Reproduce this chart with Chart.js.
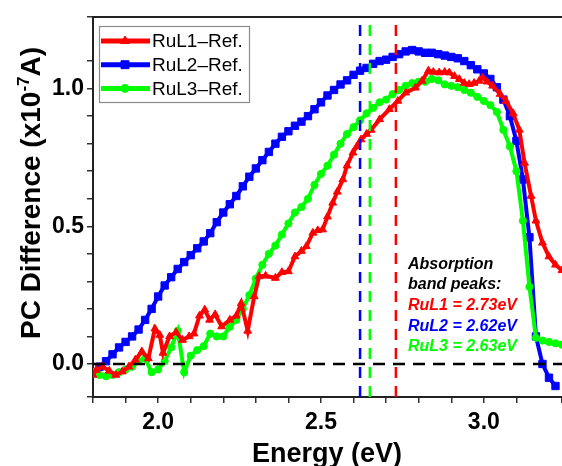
<!DOCTYPE html>
<html>
<head>
<meta charset="utf-8">
<script src="https://cdn.jsdelivr.net/npm/chart.js@4.4.1/dist/chart.umd.min.js"></script>
<style>
html,body{margin:0;padding:0;background:#fff;}
#wrap{width:562px;height:466px;position:relative;}
</style>
</head>
<body>
<div id="wrap"><canvas id="c" width="562" height="466"></canvas></div>
<script>
// ---- data ----
const seriesLabels = ['RuL1\u2013Ref.', 'RuL2\u2013Ref.', 'RuL3\u2013Ref.'];

const energyRuL1 = [1.80,1.81,1.83,1.85,1.87,1.89,1.91,1.93,1.95,1.97,1.99,2.005,2.015,2.035,2.055,2.075,2.095,2.11,2.127,2.143,2.158,2.175,2.195,2.22,2.24,2.255,2.275,2.295,2.31,2.33,2.36,2.38,2.40,2.42,2.44,2.455,2.475,2.49,2.505,2.52,2.536,2.55,2.567,2.58,2.598,2.61,2.623,2.64,2.654,2.68,2.71,2.736,2.76,2.79,2.81,2.83,2.845,2.863,2.88,2.894,2.91,2.925,2.94,2.955,2.97,2.986,2.996,3.01,3.027,3.05,3.068,3.09,3.109,3.125,3.145,3.16,3.18,3.20,3.22,3.24];
const pcRuL1 = [-0.04,-0.022,-0.01,-0.025,-0.04,-0.028,-0.01,0.015,0.045,0.02,0.128,0.105,0.04,0.10,0.115,0.087,0.10,0.11,0.175,0.197,0.16,0.18,0.136,0.16,0.175,0.22,0.12,0.245,0.318,0.32,0.312,0.333,0.336,0.39,0.41,0.427,0.476,0.485,0.488,0.535,0.585,0.625,0.67,0.72,0.767,0.79,0.815,0.835,0.85,0.888,0.925,0.955,0.985,1.003,1.028,1.065,1.06,1.058,1.06,1.058,1.045,1.034,1.02,1.016,1.02,1.028,1.04,1.025,1.01,0.98,0.955,0.91,0.85,0.73,0.61,0.52,0.44,0.39,0.36,0.34];

const energyRuL2 = [1.80,1.82,1.84,1.86,1.88,1.90,1.92,1.94,1.96,1.98,2.00,2.02,2.04,2.06,2.08,2.10,2.12,2.14,2.16,2.18,2.20,2.22,2.24,2.26,2.28,2.30,2.32,2.34,2.36,2.38,2.40,2.42,2.44,2.46,2.48,2.50,2.52,2.54,2.56,2.58,2.60,2.62,2.64,2.66,2.68,2.70,2.72,2.74,2.76,2.78,2.80,2.82,2.84,2.86,2.88,2.90,2.92,2.94,2.96,2.98,3.00,3.02,3.04,3.06,3.08,3.10,3.12,3.14,3.16,3.18,3.20,3.22];
const pcRuL2 = [-0.03,-0.01,0.01,0.035,0.06,0.08,0.10,0.125,0.16,0.20,0.245,0.285,0.315,0.345,0.37,0.395,0.42,0.445,0.475,0.515,0.55,0.58,0.61,0.645,0.68,0.71,0.74,0.77,0.80,0.825,0.845,0.865,0.88,0.90,0.925,0.95,0.975,0.995,1.015,1.03,1.05,1.065,1.075,1.09,1.10,1.105,1.115,1.125,1.135,1.14,1.135,1.13,1.13,1.125,1.12,1.115,1.11,1.10,1.085,1.07,1.055,1.035,1.005,0.96,0.90,0.81,0.67,0.46,0.10,0.0,-0.05,-0.08];

const energyRuL3 = [1.80,1.82,1.84,1.86,1.88,1.90,1.92,1.94,1.96,1.98,2.00,2.02,2.04,2.06,2.08,2.10,2.12,2.14,2.16,2.18,2.20,2.22,2.24,2.26,2.28,2.30,2.32,2.34,2.36,2.38,2.40,2.42,2.44,2.46,2.48,2.50,2.52,2.54,2.56,2.58,2.60,2.62,2.64,2.66,2.68,2.70,2.72,2.74,2.76,2.78,2.80,2.82,2.84,2.86,2.88,2.90,2.92,2.94,2.96,2.98,3.00,3.02,3.04,3.06,3.08,3.10,3.12,3.14,3.16,3.18,3.20,3.22,3.24];
const pcRuL3 = [-0.03,-0.04,-0.045,-0.04,-0.03,-0.02,-0.01,0.01,0.02,-0.03,-0.02,0.01,0.06,0.12,-0.03,0.03,0.05,0.065,0.11,0.10,0.10,0.135,0.16,0.20,0.25,0.31,0.36,0.40,0.43,0.47,0.51,0.55,0.57,0.60,0.65,0.69,0.72,0.76,0.80,0.835,0.86,0.885,0.91,0.93,0.95,0.96,0.98,0.995,1.01,1.02,1.025,1.025,1.035,1.03,1.015,1.01,1.005,0.995,0.985,0.97,0.955,0.94,0.915,0.85,0.79,0.70,0.52,0.28,0.095,0.085,0.08,0.075,0.07];

const peakLabels = ['RuL1 = 2.73eV', 'RuL2 = 2.62eV', 'RuL3 = 2.63eV'];
const peakLinePositions = [2.73, 2.62, 2.65]; // where the dashed markers are drawn
const xTickLabels = ['2.0', '2.5', '3.0'];
const yTickLabels = ['0.0', '0.5', '1.0'];

const RED = '#ff0000', BLUE = '#0000ff', GREEN = '#00ff00';
const X_MIN = 1.8, X_MAX = 3.24, Y_MIN = -0.12, Y_MAX = 1.26;

const pts = (xs, ys) => xs.map((x, i) => ({x: x, y: ys[i]}));
const vline = (x) => [{x: x, y: Y_MIN}, {x: x, y: Y_MAX}];

const datasets = [
  {label: 'zero', data: [{x: X_MIN, y: 0}, {x: X_MAX, y: 0}], borderColor: '#000', borderWidth: 2.5, borderDash: [12, 8], pointRadius: 0, order: 0},
  {label: 'p1', data: vline(peakLinePositions[0]), borderColor: RED, borderWidth: 2.5, borderDash: [11, 8], pointRadius: 0, order: 0},
  {label: 'p2', data: vline(peakLinePositions[1]), borderColor: BLUE, borderWidth: 2.5, borderDash: [11, 8], pointRadius: 0, order: 0},
  {label: 'p3', data: vline(peakLinePositions[2]), borderColor: GREEN, borderWidth: 2.5, borderDash: [11, 8], pointRadius: 0, order: 0},
  {label: seriesLabels[0], data: pts(energyRuL1, pcRuL1), borderColor: RED, backgroundColor: RED, borderWidth: 4, pointStyle: 'triangle', pointRadius: 4.5, pointBorderWidth: 1, order: 1},
  {label: seriesLabels[2], data: pts(energyRuL3, pcRuL3), borderColor: GREEN, backgroundColor: GREEN, borderWidth: 4, pointStyle: 'circle', pointRadius: 3.6, pointBorderWidth: 1, order: 2},
  {label: seriesLabels[1], data: pts(energyRuL2, pcRuL2), borderColor: BLUE, backgroundColor: BLUE, borderWidth: 4, pointStyle: 'rect', pointRadius: 5.2, pointBorderWidth: 1, order: 3}
];

const isMajor = (v) => Math.abs(v * 2 - Math.round(v * 2)) < 1e-6;

const decor = {
  id: 'decor',
  afterDraw(chart) {
    const ctx = chart.ctx, a = chart.chartArea;
    ctx.save();
    // top frame line
    ctx.strokeStyle = '#222'; ctx.lineWidth = 2;
    ctx.beginPath(); ctx.moveTo(a.left, a.top); ctx.lineTo(a.right + 2, a.top); ctx.stroke();

    // legend
    const lx = 99, ly = 26, lw = 150, lh = 76;
    ctx.fillStyle = '#fff'; ctx.fillRect(lx, ly, lw, lh);
    ctx.strokeStyle = '#8c8c8c'; ctx.lineWidth = 1.2; ctx.strokeRect(lx + 0.5, ly + 0.5, lw, lh);
    const legendItems = [
      {c: RED, s: 'triangle', r: 5, t: seriesLabels[0]},
      {c: BLUE, s: 'rect', r: 5.6, t: seriesLabels[1]},
      {c: GREEN, s: 'circle', r: 4, t: seriesLabels[2]}
    ];
    ctx.font = '19px "Liberation Sans", Arial, sans-serif';
    ctx.textBaseline = 'middle'; ctx.textAlign = 'left';
    legendItems.forEach((it, i) => {
      const y = 41 + i * 23.7;
      ctx.strokeStyle = it.c; ctx.lineWidth = 5; ctx.setLineDash([]);
      ctx.beginPath(); ctx.moveTo(101, y); ctx.lineTo(150, y); ctx.stroke();
      ctx.fillStyle = it.c; ctx.strokeStyle = it.c; ctx.lineWidth = 1;
      Chart.helpers.drawPoint(ctx, {pointStyle: it.s, radius: it.r, borderWidth: 1}, 125, y);
      ctx.fillStyle = '#000';
      ctx.fillText(it.t, 152, y + 1);
    });

    // annotation text
    ctx.font = 'italic bold 16px "Liberation Sans", Arial, sans-serif';
    ctx.textAlign = 'left'; ctx.textBaseline = 'middle';
    ctx.fillStyle = '#000';
    ctx.fillText('Absorption', 408, 265);
    ctx.fillText('band peaks:', 408, 285);
    const pc = [RED, BLUE, GREEN];
    peakLabels.forEach((t, i) => { ctx.fillStyle = pc[i]; ctx.fillText(t, 408, 306 + i * 20.5); });

    // x title
    ctx.fillStyle = '#000';
    ctx.font = 'bold 27px "Liberation Sans", Arial, sans-serif';
    ctx.textAlign = 'center'; ctx.textBaseline = 'alphabetic';
    ctx.fillText('Energy (eV)', 327, 462);

    // y title with superscript
    ctx.translate(40, 193);
    ctx.rotate(-Math.PI / 2);
    const fMain = 'bold 28px "Liberation Sans", Arial, sans-serif';
    const fSup = 'bold 17px "Liberation Sans", Arial, sans-serif';
    const p1 = 'PC Difference (x10', sup = '-7', p2 = 'A)';
    ctx.font = fMain; const w1 = ctx.measureText(p1).width, w3 = ctx.measureText(p2).width;
    ctx.font = fSup; const w2 = ctx.measureText(sup).width;
    let x0 = -(w1 + w2 + w3) / 2;
    ctx.textAlign = 'left';
    ctx.font = fMain; ctx.fillText(p1, x0, 0);
    ctx.font = fSup; ctx.fillText(sup, x0 + w1, -11);
    ctx.font = fMain; ctx.fillText(p2, x0 + w1 + w2, 0);
    ctx.restore();
  }
};

new Chart(document.getElementById('c'), {
  type: 'line',
  data: {datasets: datasets},
  options: {
    responsive: false,
    animation: false,
    devicePixelRatio: 1,
    layout: {autoPadding: false, padding: {top: 17, right: 0, left: 0, bottom: 0}},
    plugins: {legend: {display: false}, tooltip: {enabled: false}},
    elements: {line: {tension: 0}},
    scales: {
      x: {
        type: 'linear', min: X_MIN, max: X_MAX,
        afterFit(s) { s.height = 69; s.paddingRight = 0; s.paddingLeft = 0; },
        grid: {drawOnChartArea: false, drawTicks: true, tickLength: 6, color: '#333', lineWidth: 1.5},
        border: {display: true, color: '#222', width: 2},
        ticks: {
          stepSize: 0.1, autoSkip: false, maxRotation: 0, padding: 6,
          color: '#000', font: {family: '"Liberation Sans", Arial, sans-serif', size: 23, weight: 'bold'},
          callback: (v) => { const s = v.toFixed(1); return isMajor(v) && xTickLabels.includes(s) ? s : ''; }
        }
      },
      y: {
        type: 'linear', min: Y_MIN, max: Y_MAX,
        afterFit(s) { s.width = 93; s.paddingTop = 0; s.paddingBottom = 0; },
        grid: {drawOnChartArea: false, drawTicks: true, tickLength: 6, color: '#333', lineWidth: 1.5},
        border: {display: true, color: '#222', width: 2},
        ticks: {
          stepSize: 0.1, autoSkip: false, padding: 3,
          color: '#000', font: {family: '"Liberation Sans", Arial, sans-serif', size: 23, weight: 'bold'},
          callback: (v) => { const s = v.toFixed(1); return isMajor(v) && yTickLabels.includes(s) ? s : ''; }
        }
      }
    }
  },
  plugins: [decor]
});
</script>
</body>
</html>
